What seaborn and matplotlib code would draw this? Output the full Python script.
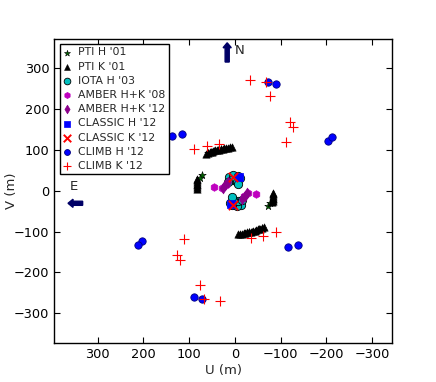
import matplotlib
matplotlib.use("Agg")
import matplotlib.pyplot as plt
import seaborn as sns
import pandas as pd

# ---------------- data (u, v in metres) ----------------
pti_h_u = [59, 52, 45, 38, 31, 73, 77, -59, -52, -45, -38, -31, -73, -77]
pti_h_v = [92, 95, 97.5, 100, 102, 38, 31, -92, -95, -97.5, -100, -102, -38, -31]

pti_k_u = [63, 59, 55, 51, 47, 43, 39, 35, 31, 27, 23, 19, 15, 11, 7,
           84, 84, 84, 84, 83, 83, 82,
           -63, -59, -55, -51, -47, -43, -39, -35, -31, -27, -23, -19, -15, -11, -7,
           -84, -84, -84, -84, -83, -83, -82]
pti_k_v = [90, 92, 93.5, 95, 96.5, 98, 99, 100, 101, 102, 103, 104, 105, 106, 107,
           5, 9, 13, 17, 21, 25, 29,
           -90, -92, -93.5, -95, -96.5, -98, -99, -100, -101, -102, -103, -104, -105, -106, -107,
           -5, -9, -13, -17, -21, -25, -29]

iota_u = [12.5, 3.7, -7.2, 7.2, -3.7, -10.9, 14.7, -7.2,
          -12.5, -3.7, 7.2, -7.2, 3.7, 10.9, -14.7, 7.2]
iota_v = [34, 38.1, 36.4, 25.9, 21.8, 30.1, 21.8, 15.4,
          -34, -38.1, -36.4, -25.9, -21.8, -30.1, -21.8, -15.4]

amber08_u = [46, 29, 19, -46, -29, -19]
amber08_v = [8, 5.5, 13.5, -8, -5.5, -13.5]

amber12_u = [26, 21, 16, -26, -21, -16]
amber12_v = [6, 13, 20, -6, -13, -20]

classic_h_u = [-9, 9]
classic_h_v = [32, -33]

classic_k_u = [5, 4]
classic_k_v = [33, -34]

climb_h_u = [-71.4, -88.9, -203.1, -211.1, 137.6, 115.7,
             71.4, 88.9, 203.1, 211.1, -137.6, -115.7]
climb_h_v = [264.8, 260.6, 122, 131.8, 133.5, 138.4,
             -264.8, -260.6, -122, -131.8, -133.5, -138.4]

climb_k_u = [-32.8, -67.7, -76.4, -120.1, -127.3, -111.4, 88.9, 60.5, 35.6,
             32.8, 67.7, 76.4, 120.1, 127.3, 111.4, -88.9, -60.5, -35.6]
climb_k_v = [269.7, 264.8, 231.3, 168.5, 156.2, 118.1, 101, 109.8, 114.7,
             -269.7, -264.8, -231.3, -168.5, -156.2, -118.1, -101, -109.8, -114.7]

labels = ["PTI H '01", "PTI K '01", "IOTA H '03", "AMBER H+K '08", "AMBER H+K '12",
          "CLASSIC H '12", "CLASSIC K '12", "CLIMB H '12", "CLIMB K '12"]

# ---------------- style ----------------
sns.set_style("ticks")
plt.rcParams.update({
    "font.family": ["DejaVu Sans"],
    "font.size": 9,
    "xtick.direction": "in",
    "ytick.direction": "in",
    "xtick.top": True,
    "ytick.right": True,
    "xtick.major.size": 4,
    "ytick.major.size": 4,
    "axes.linewidth": 1.0,
    "axes.edgecolor": "black",
    "xtick.color": "black",
    "ytick.color": "black",
    "xtick.labelsize": 9.3,
    "ytick.labelsize": 9.3,
    "axes.labelsize": 9.5,
})

fig = plt.figure(figsize=(4.36, 3.82), dpi=100)
ax = fig.add_axes([0.1245, 0.1013, 0.7753, 0.7974])

series = [
    (pti_h_u, pti_h_v, "*", "#006400", "k", 32, 0.4),
    (pti_k_u, pti_k_v, "^", "black", "k", 28, 0.4),
    (iota_u, iota_v, "o", "c", "k", 36, 0.6),
    (amber08_u, amber08_v, "h", "m", "m", 30, 0.5),
    (amber12_u, amber12_v, "d", "#8b008b", "#8b008b", 30, 0.5),
    (classic_h_u, classic_h_v, "s", "b", "b", 32, 0.5),
    (classic_k_u, classic_k_v, "x", "r", "r", 45, 1.4),
    (climb_h_u, climb_h_v, "o", "b", "#000080", 28, 0.6),
    (climb_k_u, climb_k_v, "+", "r", "r", 45, 0.8),
]

for (u, v, mk, fc, ec, s, lw), lab in zip(series, labels):
    df = pd.DataFrame({"U": u, "V": v})
    if mk in ("x", "+"):
        sns.scatterplot(data=df, x="U", y="V", marker=mk, color=fc, s=s,
                        linewidth=lw, label=lab, ax=ax)
    else:
        sns.scatterplot(data=df, x="U", y="V", marker=mk, color=fc, s=s,
                        edgecolor=ec, linewidth=lw, label=lab, ax=ax)

ax.set_xlim(395, -344)
ax.set_ylim(-373, 371)
ax.set_xticks([300, 200, 100, 0, -100, -200, -300])
ax.set_yticks([-300, -200, -100, 0, 100, 200, 300])
ax.set_xticklabels(["300", "200", "100", "0", "\u2212100", "\u2212200", "\u2212300"])
ax.set_yticklabels(["\u2212300", "\u2212200", "\u2212100", "0", "100", "200", "300"])
ax.set_xlabel("U (m)", labelpad=2)
ax.set_ylabel("V (m)")
ax.yaxis.set_label_coords(-0.107, 0.5)

# compass arrows
ax.arrow(17, 314, 0, 47, width=9, head_width=18, head_length=12,
         length_includes_head=True, color="#000066")
ax.text(0, 343, "N", ha="left", va="center", fontsize=9.5)
ax.arrow(333, -31, 32, 0, width=10, head_width=20, head_length=11,
         length_includes_head=True, color="#000066")
ax.text(352, 10, "E", ha="center", va="center", fontsize=9.5)

leg = ax.legend(loc="upper left", scatterpoints=1, fontsize=7.8,
                frameon=True, fancybox=False, edgecolor="black",
                framealpha=1, labelspacing=0.39, handletextpad=0.6,
                borderpad=0.3, borderaxespad=0.5, handlelength=0.8,
                markerscale=0.8)
leg.get_frame().set_linewidth(1.0)

fig.savefig("out.png", dpi=100)
